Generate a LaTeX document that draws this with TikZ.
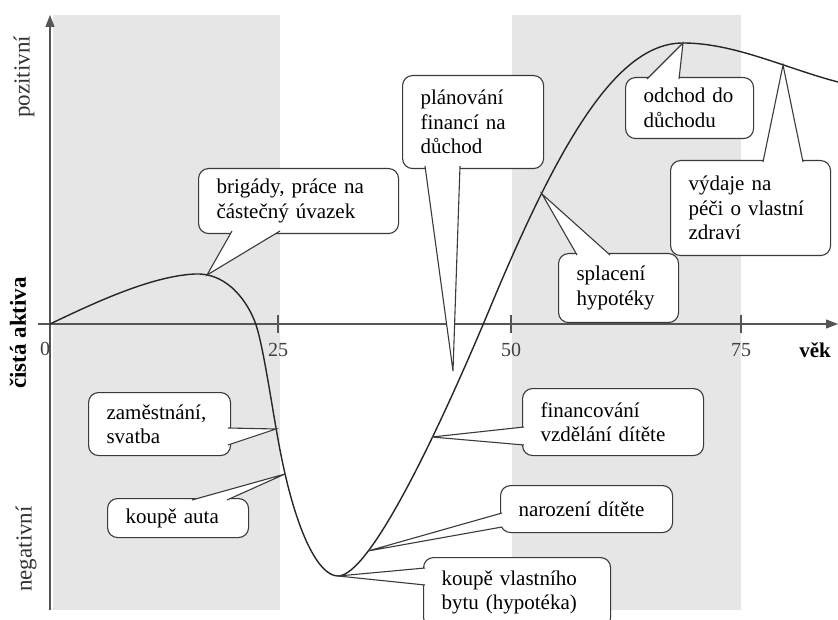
\documentclass[tikz,border=0pt]{standalone}
\usepackage{fontspec}
\setmainfont{Liberation Serif}
\usetikzlibrary{positioning,calc,arrows.meta}

\definecolor{bandgrey}{HTML}{E6E6E6}
\definecolor{bubbleline}{HTML}{3A3A3A}
\definecolor{axisgrey}{HTML}{555555}

\tikzset{
  bubble/.style 2 args={draw=bubbleline, line width=1.1pt, fill=white, rounded corners=10pt,
    anchor=north west, align=left, inner xsep=18pt, inner ysep=0pt,
    text width=#1pt, minimum height=#2pt, font=\fontsize{21}{24.5}\selectfont},
  tail/.style={draw=bubbleline, line width=1.1pt, fill=white},
  band/.style={fill=bandgrey, draw=none},
  axis/.style={draw=axisgrey, line width=1.3pt},
  curve/.style={draw=black!85, line width=1.4pt},
  ticklabel/.style={font=\fontsize{20}{20}\selectfont, text=black!75, inner sep=0pt},
  sidelabel/.style={rotate=90, inner sep=0pt, text=black!80, font=\fontsize{23}{23}\selectfont}
}

\begin{document}
\begin{tikzpicture}[x=1pt,y=-1pt]
  \useasboundingbox (0,0) rectangle (838,620);

  % shaded age ranges
  \fill[band] (53,15) rectangle (280,610);
  \fill[band] (512,15) rectangle (741,610);

  % axes
  \coordinate (yBot) at (50,610);
  \coordinate (yTop) at (50,15);
  \coordinate (xL) at (38,324);
  \coordinate (xR) at (838,324);
  \draw[axis, -{Triangle[length=12pt,width=9pt]}] (yBot) -- (yTop);
  \draw[axis, -{Triangle[length=12pt,width=9pt]}] (xL) -- (xR);
  \foreach \x/\v in {278/25, 511/50, 741/75} {
    \draw[axis] (\x,315) -- (\x,333);
    \node[ticklabel] (l\v) at (\x,350) {\v};
  }
  \node[ticklabel] (l0) at (45,349) {0};
  \node[font=\fontsize{21}{21}\selectfont\bfseries, inner sep=0pt] (age) at (815,350) {věk};

  \node[sidelabel] (pos) at (24,77) {pozitivní};
  \node[sidelabel, font=\fontsize{23}{23}\selectfont\bfseries, text=black] (net) at (18,333) {čistá aktiva};
  \node[sidelabel] (neg) at (26,549) {negativní};

  % life curve
  \coordinate (k0) at (50,324);
  \coordinate (k1) at (195,274);
  \coordinate (k2) at (255,322);
  \coordinate (k3) at (280,450);
  \coordinate (k4) at (338,576);
  \coordinate (k5) at (490,308);
  \coordinate (k6) at (683,43);
  \coordinate (k7) at (838,82);
  \draw[curve] (k0) .. controls (90,305) and (150,276) .. (k1)
    .. controls (230,272.5) and (249,306) .. (k2)
    .. controls (263.3,344.2) and (271.7,406.7) .. (k3)
    .. controls (296,533) and (318.7,576) .. (k4)
    .. controls (370,576) and (439.3,429.6) .. (k5)
    .. controls (562,135) and (618.7,43) .. (k6)
    .. controls (734.7,43) and (786.3,68.6) .. (k7);

  % points where the callouts touch the curve
  \coordinate (tBrig) at (207,275);
  \coordinate (tZam) at (276,429);
  \coordinate (tAuto) at (285,474);
  \coordinate (tByt) at (k4);
  \coordinate (tNar) at (368,551);
  \coordinate (tFin) at (432,437);
  \coordinate (tSpl) at (542,194);
  \coordinate (tOdch) at (k6);
  \coordinate (tVyd) at (783,65);
  \coordinate (tPlan) at (453,371);

  % callouts
  \node[bubble={164}{65}] (brig) at (198,168) {brigády, práce na\\částečný úvazek};
  \node[bubble={105}{93}] (plan) at (402,75) {plánování\\financí na\\důchod};
  \node[bubble={92}{61}] (odch) at (625,77) {odchod do\\důchodu};
  \node[bubble={124}{95}] (vyd) at (670,160) {výdaje na\\péči o vlastní\\zdraví};
  \node[bubble={84}{69}] (spl) at (558,253) {splacení\\hypotéky};
  \node[bubble={106}{63}] (zam) at (88,392) {zaměstnání,\\svatba};
  \node[bubble={105}{39}] (auto) at (107,498) {koupě auta};
  \node[bubble={136}{47}] (nar) at (500,485) {narození dítěte};
  \node[bubble={151}{70}] (byt) at (423,557) {koupě vlastního\\bytu (hypotéka)};
  \node[bubble={145}{67}] (fin) at (522,388) {financování\\vzdělání dítěte};

  \foreach \n/\t/\ax/\ay/\bx/\by in {brig/tBrig/34/63/82/63, plan/tPlan/23/91/58/91,
      odch/tOdch/22/2/54/2, vyd/tVyd/93/2/133/2, spl/tSpl/19/2/52/2,
      zam/tZam/140/36/140/53, auto/tAuto/85/2/120/2, nar/tNar/2/28/2/42,
      byt/tByt/2/11/2/28, fin/tFin/2/39/2/57}
    \filldraw[tail] ($(\n.north west)+(\ax,\ay)$) -- (\t) -- ($(\n.north west)+(\bx,\by)$);
\end{tikzpicture}
\end{document}
